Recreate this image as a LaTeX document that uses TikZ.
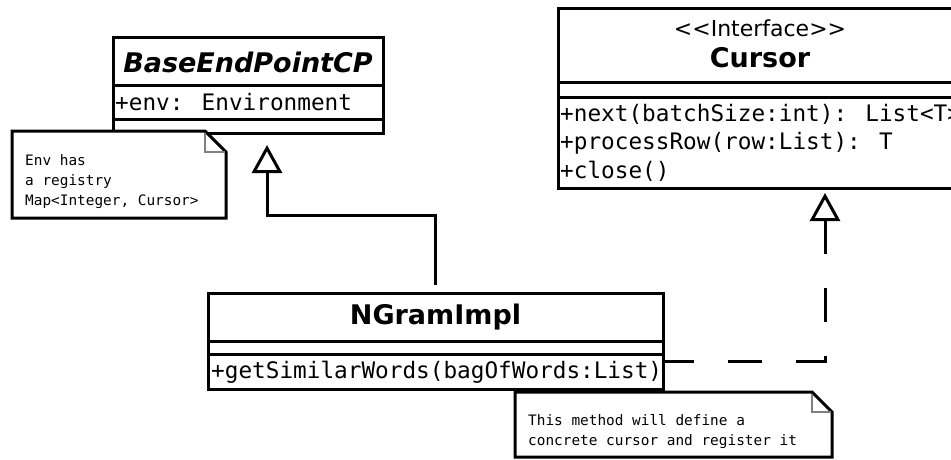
\documentclass[tikz,border=0pt]{standalone}
\usepackage{fontspec}
\setmainfont{DejaVu Sans}[Ligatures=TeXOff]
\newfontfamily\membfont{DejaVu Sans Mono}[Ligatures=TeXOff]
\usetikzlibrary{arrows.meta}

\tikzset{
  compart/.style={draw, line width=3pt, fill=white, rectangle,
    inner sep=0pt, outer sep=0pt, anchor=north west},
  titletext/.style={font=\fontsize{27}{32}\selectfont\bfseries, inner sep=0pt},
  stereotext/.style={font=\fontsize{22}{26}\selectfont, inner sep=0pt},
  membtext/.style={font=\membfont\fontsize{22.7}{28.5}\selectfont,
    align=left, anchor=west, inner sep=0pt},
  notebox/.style={inner sep=0pt, outer sep=0pt, anchor=north west},
  noteline/.style={line width=3pt, fill=white, line join=miter},
  foldline/.style={line width=1.5pt, draw=black!50},
  notetext/.style={font=\membfont\fontsize{14.4}{20}\selectfont,
    align=left, anchor=west, inner sep=0pt},
  inherits/.style={line width=3pt,
    -{Triangle[open, length=28pt, width=30pt, line width=3pt]}},
  realizes/.style={line width=3pt, dash pattern=on 33.5pt off 34.5pt,
    {Triangle[open, length=28pt, width=30pt, line width=3pt]}-}
}

\begin{document}
\begin{tikzpicture}[x=1pt, y=-1pt]
\useasboundingbox (0,0) rectangle (951,459);
\clip (0,0) rectangle (951,459);

% abstract base class
\node[compart, minimum width=270pt, minimum height=48pt] (base-name) at (113,37) {};
\node[compart, minimum width=270pt, minimum height=34pt] (base-attr) at (113,85) {};
\node[compart, minimum width=270pt, minimum height=14pt] (base-ops) at (113,119) {};
\node[titletext, font=\fontsize{27}{32}\selectfont\bfseries\itshape]
  (base-title) at ([yshift=-1pt]base-name.center) {BaseEndPointCP};
\node[membtext] (base-env) at ([xshift=2pt]base-attr.west) {+env: Environment};

% interface
\node[compart, minimum width=404pt, minimum height=74pt] (cursor-name) at (558,8) {};
\node[compart, minimum width=404pt, minimum height=15pt] (cursor-attr) at (558,82) {};
\node[compart, minimum width=404pt, minimum height=91pt] (cursor-ops) at (558,97) {};
\node[stereotext] (cursor-stereo) at ([yshift=-20pt]cursor-name.north) {<<Interface>>};
\node[titletext] (cursor-title) at ([yshift=-50pt]cursor-name.north) {Cursor};
\node[membtext] (cursor-members) at ([xshift=2pt]cursor-ops.west)
  {+next(batchSize:int): List<T>\\+processRow(row:List): T\\+close()};

% implementing class
\node[compart, minimum width=455pt, minimum height=48pt] (ngram-name) at (208,293) {};
\node[compart, minimum width=455pt, minimum height=13pt] (ngram-attr) at (208,341) {};
\node[compart, minimum width=455pt, minimum height=35pt] (ngram-ops) at (208,354) {};
\node[titletext] (ngram-title) at (ngram-name.center) {NGramImpl};
\node[membtext] (ngram-method) at ([xshift=3pt,yshift=-1pt]ngram-ops.west)
  {+getSimilarWords(bagOfWords:List)};

% generalization
\coordinate (gen-bend) at (0,215);
\draw[inherits, shorten <=8pt, shorten >=12pt]
  (ngram-name.north) -- (ngram-name.north |- gen-bend)
  -| ([xshift=19pt]base-ops.south);

% realization
\coordinate (real-bend) at (0,361);
\draw[realizes, shorten <=5pt]
  ([xshift=65pt]cursor-ops.south) -- ([xshift=65pt]cursor-ops.south |- real-bend)
  -- (ngram-ops.east |- real-bend);

% note on the registry
\node[notebox, minimum width=214pt, minimum height=87pt] (env-note) at (12,131) {};
\draw[noteline] (env-note.north west) -- ([xshift=-21pt]env-note.north east)
  -- ([yshift=-21pt]env-note.north east) -- (env-note.south east)
  -- (env-note.south west) -- cycle;
\draw[foldline] ([xshift=-21pt,yshift=-1.5pt]env-note.north east)
  |- ([xshift=-1.5pt,yshift=-21pt]env-note.north east);
\node[notetext] (env-note-text) at ([xshift=13pt,yshift=-7pt]env-note.west)
  {Env has\\a registry\\Map<Integer, Cursor>};

% note on the method
\node[notebox, minimum width=317pt, minimum height=65pt] (method-note) at (515,392) {};
\draw[noteline] (method-note.north west) -- ([xshift=-20pt]method-note.north east)
  -- ([yshift=-20pt]method-note.north east) -- (method-note.south east)
  -- (method-note.south west) -- cycle;
\draw[foldline] ([xshift=-20pt,yshift=-1.5pt]method-note.north east)
  |- ([xshift=-1.5pt,yshift=-20pt]method-note.north east);
\node[notetext] (method-note-text) at ([xshift=13pt,yshift=-7pt]method-note.west)
  {This method will define a\\concrete cursor and register it};
\end{tikzpicture}
\end{document}
